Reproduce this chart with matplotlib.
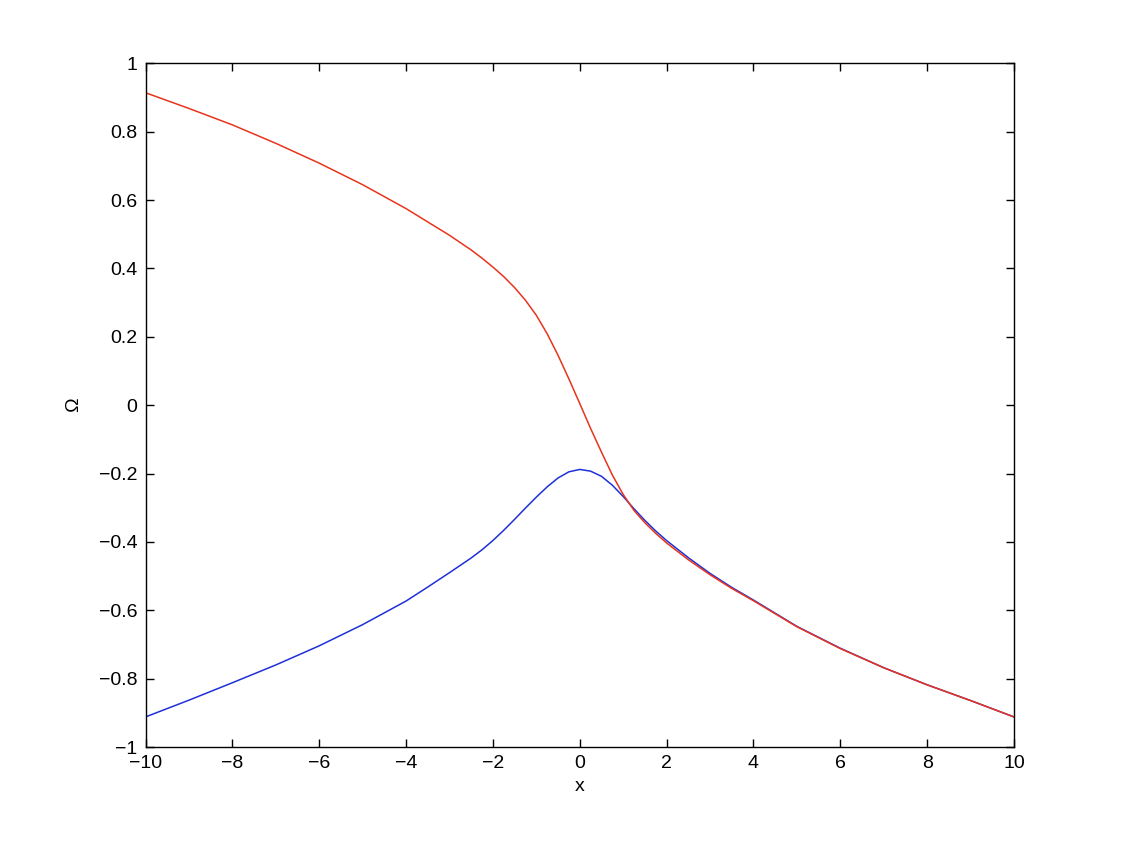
import matplotlib
matplotlib.use('Agg')
import matplotlib.pyplot as plt
import numpy as np

#-- dati
x_vals = [-10, -9, -8, -7, -6, -5, -4, -3.5, -3, -2.5, -2.25, -2, -1.75, -1.5, -1.25,
          -1, -0.75, -0.5, -0.25, 0, 0.25, 0.5, 0.75, 1, 1.25, 1.5, 1.75, 2, 2.5, 3,
          3.5, 4, 5, 6, 7, 8, 9, 10]

omega_red = [0.914, 0.868, 0.820, 0.766, 0.708, 0.645, 0.575, 0.536, 0.497, 0.454,
             0.430, 0.404, 0.376, 0.344, 0.307, 0.263, 0.209, 0.146, 0.077, 0.005,
             -0.068, -0.137, -0.204, -0.261, -0.308, -0.344, -0.375, -0.403, -0.452,
             -0.496, -0.536, -0.572, -0.648, -0.712, -0.768, -0.818, -0.864, -0.912]

omega_blue = [-0.912, -0.863, -0.812, -0.760, -0.704, -0.642, -0.573, -0.532, -0.490,
              -0.447, -0.423, -0.396, -0.366, -0.334, -0.301, -0.269, -0.239, -0.213,
              -0.195, -0.188, -0.193, -0.208, -0.234, -0.267, -0.303, -0.337, -0.368,
              -0.396, -0.446, -0.492, -0.533, -0.570, -0.647, -0.711, -0.768, -0.818,
              -0.864, -0.912]

x_ticks = np.arange(-10, 11, 2)
y_ticks = np.round(np.arange(-1, 1.01, 0.2), 1)
#--

plt.rcParams['font.family'] = ['Liberation Sans', 'DejaVu Sans']

def matlab_label(v):
    if abs(v) < 1e-9:
        return '0'
    return ('%g' % v).replace('-', '\u2212')

fig = plt.figure(figsize=(11.21, 8.42), dpi=100)
ax = fig.add_axes([0.1298, 0.1128, 0.7747, 0.8120])

ax.plot(x_vals, omega_blue, color='#1f30d8', linewidth=1.1)
ax.plot(x_vals, omega_red, color='#e8341c', linewidth=1.1)

#-- formattazione stile matlab
ax.set_xlim(-10, 10)
ax.set_ylim(-1, 1)
ax.set_xticks(x_ticks)
ax.set_xticklabels([matlab_label(v) for v in x_ticks])
ax.set_yticks(y_ticks)
ax.set_yticklabels([matlab_label(v) for v in y_ticks])
ax.tick_params(direction='in', length=6, width=1, top=True, right=True,
               labelsize=14, pad=6)
for s in ax.spines.values():
    s.set_linewidth(1)

ax.set_xlabel('x', fontsize=14, labelpad=4)
ax.set_ylabel('Ω', fontsize=14, labelpad=12)
#--

fig.savefig('out.png', dpi=100)
plt.close('all')
